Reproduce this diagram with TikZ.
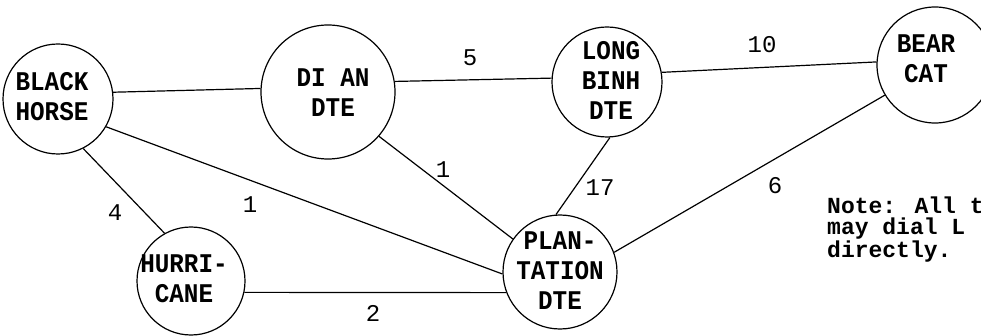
\documentclass[tikz,border=0pt]{standalone}
\usepackage{fontspec}
\newfontfamily\tw{Liberation Mono}
\newfontfamily\twnarrow[FakeStretch=0.9]{Liberation Mono}
\begin{document}
\begin{tikzpicture}[x=1pt,y=-1pt,
  stn/.style={draw,circle,line width=1.2pt,inner sep=0pt},
  stntext/.style={inner sep=0pt,align=center,
    font=\twnarrow\bfseries\fontsize{27}{30}\selectfont},
  link/.style={line width=1.2pt},
  wt/.style={inner sep=0pt,font=\tw\fontsize{24}{24}\selectfont},
  notetext/.style={inner sep=0pt,align=left,anchor=north west,
    font=\tw\bfseries\fontsize{23}{21}\selectfont}]
\useasboundingbox (0,0) rectangle (981,336);
\clip (0,0) rectangle (981,336);
% exchanges
\node[stn,minimum size=110pt] (bh) at (58,99) {};
\node[stn,minimum size=134pt] (dian) at (328,92) {};
\node[stn,minimum size=110pt] (lb) at (607,82) {};
\node[stn,minimum size=116pt] (bc) at (935,65) {};
\node[stn,minimum size=108pt] (hu) at (191,281) {};
\node[stn,minimum size=114pt] (pl) at (560,272) {};
% exchange names
\node[stntext] (bh-name) at (52,97) {BLACK\\HORSE};
\node[stntext] (dian-name) at (333,93) {DI AN\\DTE};
\node[stntext] (lb-name) at (611,80) {LONG\\BINH\\DTE};
\node[stntext] (bc-name) at (926,59) {BEAR\\CAT};
\node[stntext] (hu-name) at (184,279) {HURRI-\\CANE};
\node[stntext] (pl-name) at (560,271) {PLAN-\\TATION\\DTE};
% trunks
\draw[link] (bh.7) -- (dian.177);
\draw[link] (dian.9) -- (lb.176);
\draw[link] (lb.10) -- (bc.177);
\draw[link] (bh.-30) -- (pl.182);
\draw[link] (bh.-63) -- (hu.119);
\draw[link] (dian.-41) -- (pl.145);
\draw[link] (lb.-87) -- (pl.94);
\draw[link] (bc.211) -- (pl.20);
\draw[link] (hu.-12) -- (pl.201);
% trunk counts
\node[wt] (n5) at (470,58) {5};
\node[wt] (n10) at (762,45) {10};
\node[wt] (n1a) at (443,170) {1};
\node[wt] (n17) at (600,188) {17};
\node[wt] (n6) at (775,186) {6};
\node[wt] (n4) at (115,213) {4};
\node[wt] (n1b) at (250,205) {1};
\node[wt] (n2) at (373,313) {2};
% note
\node[notetext] (note) at (827,197) {Note: All t\\may dial L\\directly.};
\end{tikzpicture}
\end{document}
